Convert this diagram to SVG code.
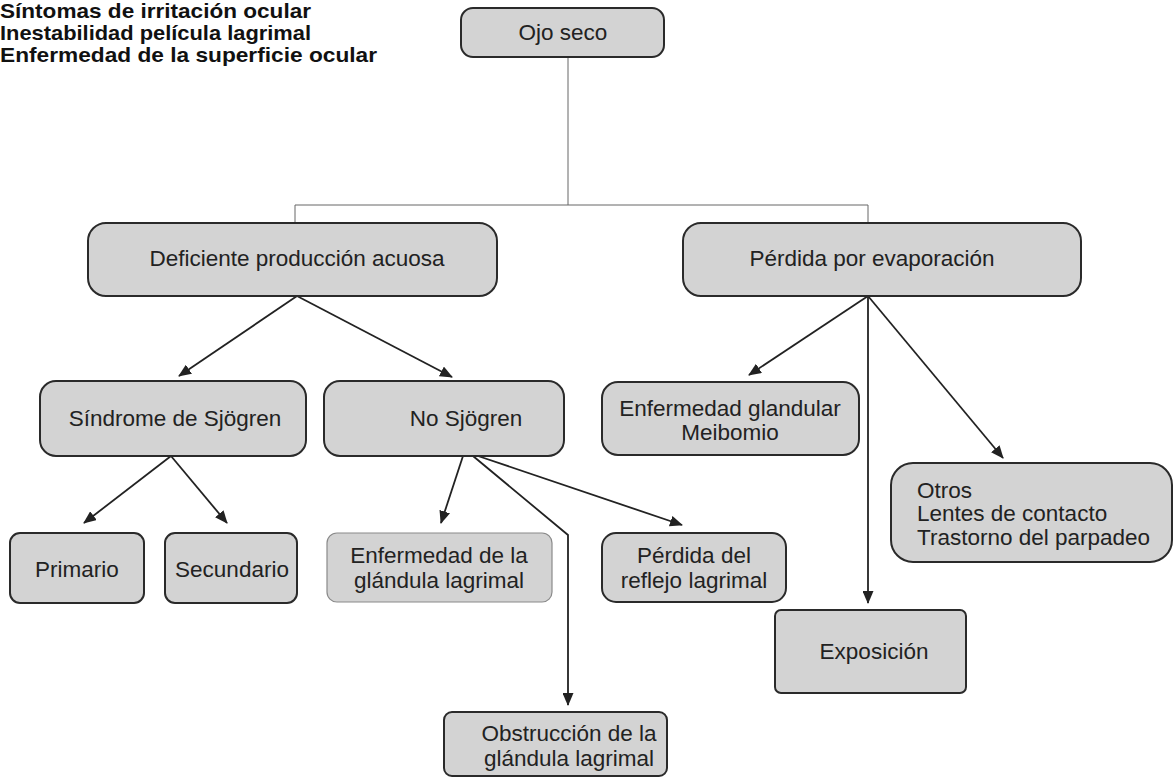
<svg xmlns="http://www.w3.org/2000/svg" width="1176" height="779" viewBox="0 0 1176 779">
<style>
.n rect{fill:#d3d3d3;stroke:#2a2a2a;stroke-width:2}
.n.l rect{stroke:#8a8a8a;stroke-width:1.2}
.n text{font-family:"Liberation Sans",Arial,sans-serif;font-size:22.5px;fill:#222;text-anchor:middle}
.hdr{font-family:"Liberation Sans",Arial,sans-serif;font-size:20.5px;font-weight:bold;fill:#111}
.c{fill:none;stroke:#222;stroke-width:1.8}
.t{fill:none;stroke:#666;stroke-width:1}
</style>
<defs>
<marker id="a" viewBox="0 0 13 11" refX="12" refY="5.5" markerWidth="13" markerHeight="11" markerUnits="userSpaceOnUse" orient="auto">
<path d="M0,0 L13,5.5 L0,11 Z" fill="#222"/>
</marker>
</defs>
<rect width="1176" height="779" fill="#fff"/>
<g id="header">
<text class="hdr" x="0" y="18" textLength="311" lengthAdjust="spacingAndGlyphs">Síntomas de irritación ocular</text>
<text class="hdr" x="0" y="40" textLength="311" lengthAdjust="spacingAndGlyphs">Inestabilidad película lagrimal</text>
<text class="hdr" x="0" y="62" textLength="377" lengthAdjust="spacingAndGlyphs">Enfermedad de la superficie ocular</text>
</g>
<g id="connectors">
<path class="t" d="M568,57 V205 M295,224 V205 H868 V224"/>
<line class="c" x1="297" y1="296" x2="179" y2="376" marker-end="url(#a)"/>
<line class="c" x1="297" y1="296" x2="452" y2="377" marker-end="url(#a)"/>
<line class="c" x1="171" y1="456" x2="84" y2="523" marker-end="url(#a)"/>
<line class="c" x1="171" y1="456" x2="227" y2="523" marker-end="url(#a)"/>
<line class="c" x1="463" y1="456" x2="441" y2="523" marker-end="url(#a)"/>
<path class="c" d="M473,456 L568,535 V705" marker-end="url(#a)"/>
<line class="c" x1="478" y1="456" x2="682" y2="525" marker-end="url(#a)"/>
<line class="c" x1="868" y1="296" x2="749" y2="375" marker-end="url(#a)"/>
<line class="c" x1="868" y1="296" x2="868" y2="603" marker-end="url(#a)"/>
<line class="c" x1="868" y1="296" x2="1003" y2="458" marker-end="url(#a)"/>
</g>
<g id="ojo" class="n"><rect x="461" y="8" width="203" height="49" rx="12"/><text x="563" y="40">Ojo seco</text></g>
<g id="deficiente" class="n"><rect x="88" y="223" width="409" height="73" rx="18"/><text x="297" y="266">Deficiente producción acuosa</text></g>
<g id="perdida" class="n"><rect x="683" y="223" width="398" height="73" rx="18"/><text x="872" y="266">Pérdida por evaporación</text></g>
<g id="sjogren" class="n"><rect x="40" y="381" width="266" height="75" rx="16"/><text x="175" y="426">Síndrome de Sjögren</text></g>
<g id="nosjogren" class="n"><rect x="324" y="381" width="240" height="75" rx="16"/><text x="466" y="426">No Sjögren</text></g>
<g id="meibomio" class="n"><rect x="602" y="382" width="257" height="73" rx="16"/><text x="730" y="416">Enfermedad glandular</text><text x="730" y="440">Meibomio</text></g>
<g id="primario" class="n"><rect x="10" y="533" width="134" height="70" rx="10"/><text x="77" y="577">Primario</text></g>
<g id="secundario" class="n"><rect x="165" y="533" width="132" height="70" rx="10"/><text x="232" y="577">Secundario</text></g>
<g id="enfglandula" class="n l"><rect x="327" y="533" width="225" height="69" rx="10"/><text x="439" y="563">Enfermedad de la</text><text x="439" y="588">glándula lagrimal</text></g>
<g id="reflejo" class="n"><rect x="602" y="533" width="184" height="69" rx="14"/><text x="694" y="563">Pérdida del</text><text x="694" y="588">reflejo lagrimal</text></g>
<g id="otros" class="n"><rect x="891" y="463" width="281" height="99" rx="22"/><text x="917" y="498" style="text-anchor:start">Otros</text><text x="917" y="521" style="text-anchor:start">Lentes de contacto</text><text x="917" y="545" style="text-anchor:start">Trastorno del parpadeo</text></g>
<g id="exposicion" class="n"><rect x="775" y="610" width="191" height="83" rx="6"/><text x="874" y="659">Exposición</text></g>
<g id="obstruccion" class="n"><rect x="444" y="712" width="223" height="64" rx="8"/><text x="569" y="741">Obstrucción de la</text><text x="569" y="766">glándula lagrimal</text></g>
</svg>
